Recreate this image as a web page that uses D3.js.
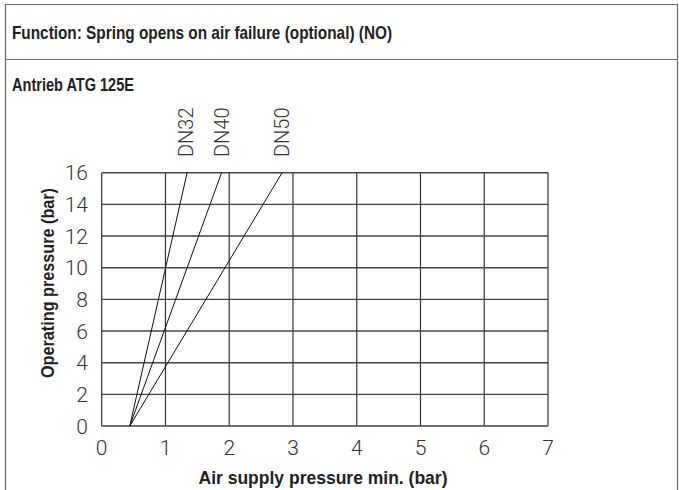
<!DOCTYPE html>
<html><head><meta charset="utf-8">
<script src="https://cdn.jsdelivr.net/npm/d3@7"></script>
<style>
body{margin:0;background:#fff;}
svg{display:block;}
.bold{font-family:"Liberation Sans Narrow","Arial Narrow","Liberation Sans",sans-serif;font-weight:bold;fill:#222;}
.thin{font-family:Roboto,"DejaVu Sans",sans-serif;font-weight:300;fill:#333;}
</style></head>
<body>
<script>
const title = "Function: Spring opens on air failure (optional) (NO)";
const subtitle = "Antrieb ATG 125E";
const xLabel = "Air supply pressure min. (bar)";
const yLabel = "Operating pressure (bar)";
const xTicks = [0,1,2,3,4,5,6,7];
const yTicks = [0,2,4,6,8,10,12,14,16];
const series = ["DN32","DN40","DN50"];
const startX = [0.44,0.44,0.44];
const startY = [0,0,0];
const endX = [1.34,1.88,2.83];
const endY = [16,16,16];

const W=679,H=490;
const svg=d3.select("body").append("svg").attr("width",W).attr("height",H);

// frame
svg.append("path").attr("d","M5.5,490 V4.5 H677.5 V490").attr("fill","none").attr("stroke","#666").attr("stroke-width",1.2);
svg.append("line").attr("x1",5).attr("x2",678).attr("y1",59.5).attr("y2",59.5).attr("stroke","#777").attr("stroke-width",1.2);
svg.append("text").attr("class","bold").attr("x",12).attr("y",38.5).attr("font-size",18.5)
  .attr("textLength",380).attr("lengthAdjust","spacingAndGlyphs").text(title);
svg.append("text").attr("class","bold").attr("x",12).attr("y",90.5).attr("font-size",18.5)
  .attr("textLength",122).attr("lengthAdjust","spacingAndGlyphs").text(subtitle);

const x=d3.scaleLinear().domain([0,7]).range([101.7,548]);
const y=d3.scaleLinear().domain([0,16]).range([426,172.7]);

const g=svg.append("g");
// grid
g.selectAll(".vg").data(xTicks).join("line")
  .attr("x1",d=>x(d)).attr("x2",d=>x(d)).attr("y1",y(0)).attr("y2",y(16))
  .attr("stroke","#333").attr("stroke-width",1.2);
g.selectAll(".hg").data(yTicks).join("line")
  .attr("x1",x(0)).attr("x2",x(7)).attr("y1",d=>y(d)).attr("y2",d=>y(d))
  .attr("stroke","#444").attr("stroke-width",1.4);

// tick labels
g.selectAll(".xt").data(xTicks).join("text").attr("class","thin")
  .attr("x",d=>x(d)).attr("y",455).attr("text-anchor","middle").attr("font-size",21).text(d=>d);
g.selectAll(".yt").data(yTicks).join("text").attr("class","thin")
  .attr("x",88).attr("y",d=>y(d)+7.5).attr("text-anchor","end").attr("font-size",21).text(d=>d);

// lines
series.forEach((s,i)=>{
  g.append("line").attr("x1",x(startX[i])).attr("y1",y(startY[i]))
    .attr("x2",x(endX[i])).attr("y2",y(endY[i]))
    .attr("stroke","#111").attr("stroke-width",1);
});
// DN labels
const labelX=[1.32,1.89,2.83];
series.forEach((s,i)=>{
  g.append("text").attr("class","thin").attr("font-size",20)
    .attr("transform",`translate(${x(labelX[i])+7},157) rotate(-90)`)
    .text(s);
});

// axis titles
svg.append("text").attr("class","bold").attr("font-size",18.5)
  .attr("transform",`translate(54,283) rotate(-90)`).attr("text-anchor","middle")
  .attr("textLength",190).attr("lengthAdjust","spacingAndGlyphs").text(yLabel);
svg.append("text").attr("class","bold").attr("font-size",18.5)
  .attr("x",323).attr("y",484).attr("text-anchor","middle")
  .attr("textLength",249).attr("lengthAdjust","spacingAndGlyphs").text(xLabel);
</script>
</body></html>
